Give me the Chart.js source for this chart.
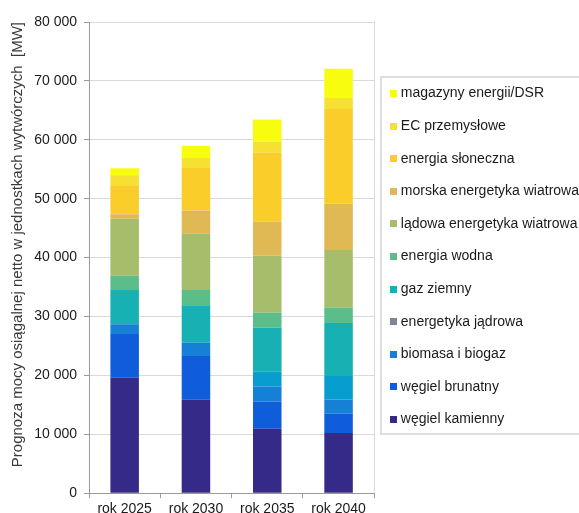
<!DOCTYPE html>
<html lang="pl">
<head>
<meta charset="utf-8">
<title>Prognoza mocy osiągalnej netto</title>
<script src="https://cdn.jsdelivr.net/npm/chart.js@4.4.1/dist/chart.umd.min.js"></script>
<style>
  html, body { margin: 0; padding: 0; background: #fff; overflow: hidden; width: 579px; height: 513px; }
  #wrap { position: relative; width: 579px; height: 513px; overflow: hidden; }
  #chart { position: absolute; left: 0; top: -8px; }
</style>
</head>
<body>
<div id="wrap"><canvas id="chart" width="589" height="529"></canvas></div>
<script>
// Categories (years of the forecast)
const categories = ['rok 2025', 'rok 2030', 'rok 2035', 'rok 2040'];

// Net achievable capacity by source [MW], stacked bottom to top
const wegielKamienny   = [19600, 15850, 10950, 10200];
const wegielBrunatny   = [7450, 7450, 4600, 3300];
const biomasaBiogaz    = [1650, 2250, 2550, 2400];
const energetykaJadrowa = [0, 0, 2500, 4000];
const gazZiemny        = [5800, 6350, 7500, 9000];
const energiaWodna     = [2400, 2600, 2550, 2600];
const ladowaWiatrowa   = [9700, 9600, 9700, 9800];
const morskaWiatrowa   = [750, 3900, 5800, 7900];
const energiaSloneczna = [4950, 7200, 11700, 16050];
const ecPrzemyslowe    = [1700, 1700, 1800, 1850];
const magazynyDSR      = [1150, 2100, 3800, 4950];

// Y axis ticks
const yTicks = [0, 10000, 20000, 30000, 40000, 50000, 60000, 70000, 80000];

const seriesNames = [
  'węgiel kamienny', 'węgiel brunatny', 'biomasa i biogaz', 'energetyka jądrowa',
  'gaz ziemny', 'energia wodna', 'lądowa energetyka wiatrowa', 'morska energetyka wiatrowa',
  'energia słoneczna', 'EC przemysłowe', 'magazyny energii/DSR'
];
const seriesValues = [
  wegielKamienny, wegielBrunatny, biomasaBiogaz, energetykaJadrowa,
  gazZiemny, energiaWodna, ladowaWiatrowa, morskaWiatrowa,
  energiaSloneczna, ecPrzemyslowe, magazynyDSR
];
const barColors = [
  '#352a87', '#105ddb', '#1580d6', '#079dcf',
  '#17b1b4', '#5bbe8a', '#a6bd6c', '#e0b955',
  '#fbcd2a', '#f6e031', '#f8fc0f'
];
const legendColors = [
  '#352a87', '#105ddb', '#1580d6', '#7d8597',
  '#17b1b4', '#5bbe8a', '#a6bd6c', '#e0b955',
  '#fbcd2a', '#f6e031', '#f8fc0f'
];

const FONT = "'Liberation Sans', Arial, sans-serif";

// small square swatches for the legend
const legendIcons = legendColors.map(c => {
  const cv = document.createElement('canvas');
  cv.width = 7; cv.height = 7;
  const g = cv.getContext('2d');
  g.fillStyle = c;
  g.fillRect(0, 0, 7, 7);
  return cv;
});

const fmt = v => String(v).replace(/\B(?=(\d{3})+(?!\d))/g, ' ');

// plot-area right edge and the legend frame
const frames = {
  id: 'frames',
  afterDraw(chart) {
    const { ctx, chartArea, legend } = chart;
    ctx.save();
    ctx.strokeStyle = '#d9d9d9';
    ctx.lineWidth = 1;
    const xr = Math.round(chartArea.right) + 0.5;
    ctx.beginPath();
    ctx.moveTo(xr, chartArea.top - 1);
    ctx.lineTo(xr, chartArea.bottom);
    ctx.stroke();

    const boxes = legend && legend.legendHitBoxes;
    if (boxes && boxes.length) {
      const top = Math.min(...boxes.map(b => b.top)) - 9;
      const bottom = Math.max(...boxes.map(b => b.top + b.height)) + 8;
      const left = Math.round(legend.left) + 7;
      ctx.strokeStyle = '#dedede';
      ctx.lineWidth = 2;
      ctx.strokeRect(left, Math.round(top), chart.width - left + 10, Math.round(bottom - top));
    }
    ctx.restore();
  }
};

new Chart(document.getElementById('chart'), {
  type: 'bar',
  data: {
    labels: categories,
    datasets: seriesNames.map((name, i) => ({
      label: name,
      data: seriesValues[i],
      backgroundColor: barColors[i],
      borderWidth: 0,
      barPercentage: 0.4,
      categoryPercentage: 1.0
    }))
  },
  options: {
    responsive: false,
    devicePixelRatio: 1,
    animation: false,
    layout: { padding: 0 },
    plugins: {
      tooltip: { enabled: false },
      legend: {
        position: 'right',
        reverse: true,
        maxWidth: 320,
        labels: {
          usePointStyle: true,
          pointStyleWidth: 1,
          boxHeight: 7,
          padding: 18.6,
          color: '#1a1a1a',
          font: { family: FONT, size: 14 },
          generateLabels(chart) {
            const items = Chart.defaults.plugins.legend.labels.generateLabels(chart);
            items.forEach(it => { it.pointStyle = legendIcons[it.datasetIndex]; });
            return items;
          }
        }
      }
    },
    scales: {
      x: {
        stacked: true,
        offset: true,
        grid: {
          offset: true,
          drawOnChartArea: false,
          tickLength: 5,
          tickColor: '#9a9a9a'
        },
        border: { color: '#9a9a9a' },
        ticks: {
          color: '#1a1a1a',
          padding: 3,
          font: { family: FONT, size: 14 }
        }
      },
      y: {
        stacked: true,
        min: yTicks[0],
        max: yTicks[yTicks.length - 1],
        afterBuildTicks(scale) {
          scale.ticks = yTicks.map(v => ({ value: v }));
        },
        afterFit(scale) {
          scale.width = 89;
          scale.paddingTop = 30;
        },
        grid: {
          color: '#d9d9d9',
          tickLength: 5,
          tickColor: '#9a9a9a'
        },
        border: { color: '#9a9a9a' },
        ticks: {
          color: '#1a1a1a',
          padding: 7,
          font: { family: FONT, size: 14 },
          callback: v => fmt(v)
        },
        title: {
          display: true,
          text: 'Prognoza mocy osiągalnej netto w jednostkach wytwórczych  [MW]',
          align: 'end',
          color: '#3a3a3a',
          padding: { top: 9, bottom: 0 },
          font: { family: FONT, size: 15 }
        }
      }
    }
  },
  plugins: [frames]
});
</script>
</body>
</html>
